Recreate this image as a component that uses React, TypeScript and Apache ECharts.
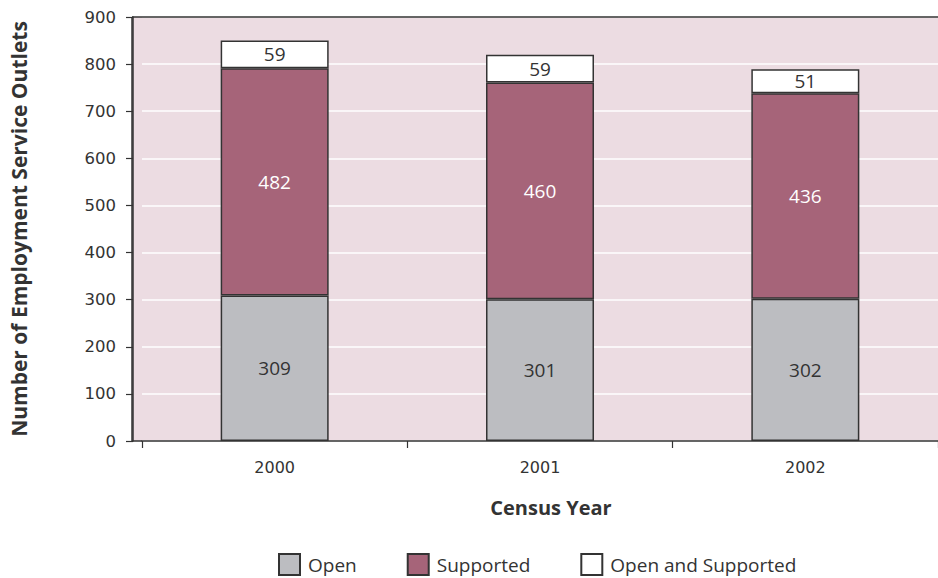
import React, { useEffect, useRef } from "react";
import * as echarts from "echarts";

const years = ["2000", "2001", "2002"];
const openValues = [309, 301, 302];
const supportedValues = [482, 460, 436];
const bothValues = [59, 59, 51];
const yTicks = [0, 100, 200, 300, 400, 500, 600, 700, 800, 900];

const FONT = "'Open Sans', 'Noto Sans', sans-serif";
const TICKFONT = "'DejaVu Sans', sans-serif";
const BG = "#ecdce2";
const INK = "#333333";

export default function App() {
  const ref = useRef<HTMLDivElement>(null);
  useEffect(() => {
    if (!ref.current) return;
    const chart = echarts.init(ref.current, undefined, { renderer: "svg" });
    const labelStyle = (color: string) => ({
      show: true,
      position: "inside",
      color,
      fontSize: 19,
      fontFamily: FONT,
    });
    const barStyle = (color: string) => ({
      color,
      borderColor: INK,
      borderWidth: 1.5,
    });
    const gridLeft = 141;
    const gridTop = 17;
    const gridBottomY = 441;
    chart.setOption({
      animation: false,
      textStyle: { fontFamily: FONT },
      grid: {
        left: gridLeft,
        right: -12,
        top: gridTop,
        bottom: 578 - gridBottomY,
        show: true,
        backgroundColor: BG,
        borderWidth: 0,
      },
      graphic: [
        {
          type: "rect",
          z: -1,
          shape: { x: 132, y: gridTop, width: gridLeft - 132 + 1, height: gridBottomY - gridTop },
          style: { fill: BG },
        },
        {
          type: "line",
          z: 10,
          shape: { x1: 132, y1: gridTop, x2: 938, y2: gridTop },
          style: { stroke: INK, lineWidth: 1.5 },
        },
        {
          type: "line",
          z: 10,
          shape: { x1: 132, y1: gridTop, x2: 132, y2: gridBottomY },
          style: { stroke: INK, lineWidth: 1.5 },
        },
        {
          type: "line",
          z: 10,
          shape: { x1: 132, y1: gridBottomY, x2: gridLeft + 1, y2: gridBottomY },
          style: { stroke: INK, lineWidth: 1.5 },
        },
      ],
      legend: {
        left: 278,
        top: 553,
        padding: 0,
        itemWidth: 21,
        itemHeight: 21,
        itemGap: 50,
        icon: "rect",
        textStyle: { fontSize: 19, color: INK, fontFamily: FONT, padding: [0, 0, 0, 3] },
        data: ["Open", "Supported", "Open and Supported"],
      },
      xAxis: {
        type: "category",
        data: years,
        name: "Census Year",
        nameLocation: "middle",
        nameGap: 56,
        nameTextStyle: { fontSize: 20, fontWeight: "bold", color: INK, fontFamily: FONT, padding: [0, 0, 0, 22] },
        axisLine: { lineStyle: { color: INK, width: 1.5 } },
        axisTick: { show: true, length: 7, lineStyle: { color: INK, width: 1.2 } },
        axisLabel: { fontSize: 16, color: INK, margin: 18, fontFamily: TICKFONT },
      },
      yAxis: {
        type: "value",
        min: yTicks[0],
        max: yTicks[yTicks.length - 1],
        interval: 100,
        offset: gridLeft - 132,
        name: "Number of Employment Service Outlets",
        nameLocation: "middle",
        nameGap: 104,
        nameTextStyle: { fontSize: 21, fontWeight: "bold", color: INK, fontFamily: FONT },
        axisLine: { show: true, lineStyle: { color: INK, width: 1.5 } },
        axisTick: { show: true, length: 7, lineStyle: { color: INK, width: 1.2 } },
        axisLabel: { fontSize: 16.5, color: INK, margin: 17, fontFamily: TICKFONT },
        splitLine: { show: true, lineStyle: { color: "#ffffff", width: 1.5 } },
      },
      series: [
        {
          name: "Open",
          type: "bar",
          stack: "total",
          barWidth: 108,
          data: openValues,
          itemStyle: barStyle("#bcbdc1"),
          label: labelStyle(INK),
        },
        {
          name: "Supported",
          type: "bar",
          stack: "total",
          data: supportedValues,
          itemStyle: barStyle("#a66479"),
          label: labelStyle("#ffffff"),
        },
        {
          name: "Open and Supported",
          type: "bar",
          stack: "total",
          data: bothValues,
          itemStyle: barStyle("#ffffff"),
          label: labelStyle(INK),
        },
      ],
    });
    return () => chart.dispose();
  }, []);
  return (
    <div
      ref={ref}
      style={{ position: "absolute", left: 0, top: 0, width: 938, height: 578 }}
    />
  );
}
